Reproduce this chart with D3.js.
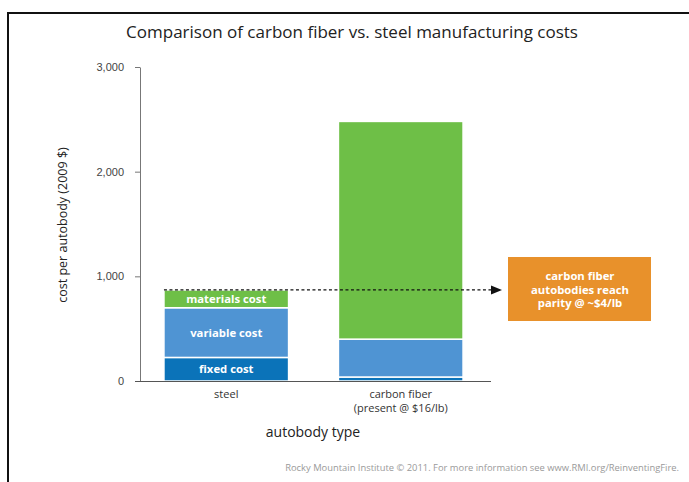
<!DOCTYPE html>
<html><head><meta charset="utf-8">
<script src="https://cdn.jsdelivr.net/npm/d3@7"></script>
<style>
body{margin:0;background:#fff;}
svg{display:block;font-family:"Open Sans","Noto Sans",sans-serif;}
</style></head>
<body>
<svg id="c" width="689" height="482"></svg>
<script>
const categories = ["steel", "carbon fiber"];
const categoryLabels = [["steel"], ["carbon fiber", "(present @ $16/lb)"]];
const seriesNames = ["fixed cost", "variable cost", "materials cost"];
const fixedCost = [225, 38];
const variableCost = [475, 362];
const materialsCost = [170, 2080];
const yTicks = [0, 1000, 2000, 3000];
const parityValue = 870;
const calloutLines = ["carbon fiber", "autobodies reach", "parity @ ~$4/lb"];
const colors = ["#0b73b9", "#4f94d3", "#6ebf47"];

const svg = d3.select("#c");
// frame
svg.append("path").attr("d","M8,482 V13 H689").attr("fill","none").attr("stroke","#111").attr("stroke-width",2);

svg.append("text").attr("x",352).attr("y",38).attr("text-anchor","middle")
  .attr("font-size",17).attr("fill","#222").text("Comparison of carbon fiber vs. steel manufacturing costs");

const y = d3.scaleLinear().domain([0,3000]).range([381,67]);
const x = d3.scaleBand().domain(categories).range([139,488]).paddingInner(0.2857).paddingOuter(0.143);

const rows = categories.map((c,i)=>({cat:c, "fixed cost":fixedCost[i], "variable cost":variableCost[i], "materials cost":materialsCost[i]}));
const stacked = d3.stack().keys(seriesNames)(rows);

// axes
const yAxis = svg.append("g").attr("transform","translate(140,0)")
  .call(d3.axisLeft(y).tickValues(yTicks).tickFormat(d3.format(",")).tickSize(5).tickSizeOuter(0));
yAxis.select(".domain").attr("stroke","#777");
yAxis.selectAll(".tick line").attr("stroke","#777");
yAxis.selectAll(".tick text").attr("font-size",11).attr("fill","#444").attr("x",-16);

// bars
stacked.forEach((s,si)=>{
  svg.append("g").selectAll("rect").data(s).join("rect")
    .attr("x",d=>x(d.data.cat)).attr("width",x.bandwidth())
    .attr("y",d=>y(d[1])).attr("height",d=>y(d[0])-y(d[1]))
    .attr("fill",colors[si]).attr("stroke","#fff").attr("stroke-width",1.5);
});

// x axis line
svg.append("line").attr("x1",135).attr("x2",491).attr("y1",381.5).attr("y2",381.5).attr("stroke","#555").attr("stroke-width",1);

// segment labels on steel bar
const steel = categories[0];
stacked.forEach((s,si)=>{
  const d = s[0];
  svg.append("text").attr("x",x(steel)+x.bandwidth()/2).attr("y",(y(d[0])+y(d[1]))/2+4)
    .attr("text-anchor","middle").attr("font-size",11.3).attr("font-weight","bold").attr("fill","#fff")
    .text(seriesNames[si]);
});

// x labels
categories.forEach((c,i)=>{
  categoryLabels[i].forEach((t,j)=>{
    svg.append("text").attr("x",x(c)+x.bandwidth()/2).attr("y",398+j*14).attr("text-anchor","middle")
      .attr("font-size",11).attr("fill","#333").text(t);
  });
});
svg.append("text").attr("x",313).attr("y",437).attr("text-anchor","middle").attr("font-size",14).attr("fill","#222").text("autobody type");
svg.append("text").attr("transform","translate(67,225) rotate(-90)").attr("text-anchor","middle")
  .attr("font-size",12.5).attr("fill","#222").text("cost per autobody (2009 $)");

// dashed parity line + arrow
const py = y(parityValue);
svg.append("line").attr("x1",x(steel)).attr("x2",493).attr("y1",py).attr("y2",py)
  .attr("stroke","#111").attr("stroke-width",1.3).attr("stroke-dasharray","3,2.5");
svg.append("path").attr("d",`M491,${py-4.5} L502,${py} L491,${py+4.5} Z`).attr("fill","#111");

// callout
svg.append("rect").attr("x",508).attr("y",257).attr("width",143).attr("height",64).attr("fill","#e8912b");
calloutLines.forEach((t,i)=>{
  svg.append("text").attr("x",580).attr("y",280+i*13.5).attr("text-anchor","middle")
    .attr("font-size",11.3).attr("font-weight","bold").attr("fill","#fff").text(t);
});

svg.append("text").attr("x",679).attr("y",471).attr("text-anchor","end").attr("font-size",9.4).attr("fill","#9a9a9a")
  .text("Rocky Mountain Institute \u00a9 2011. For more information see www.RMI.org/ReinventingFire.");
</script>
</body></html>
